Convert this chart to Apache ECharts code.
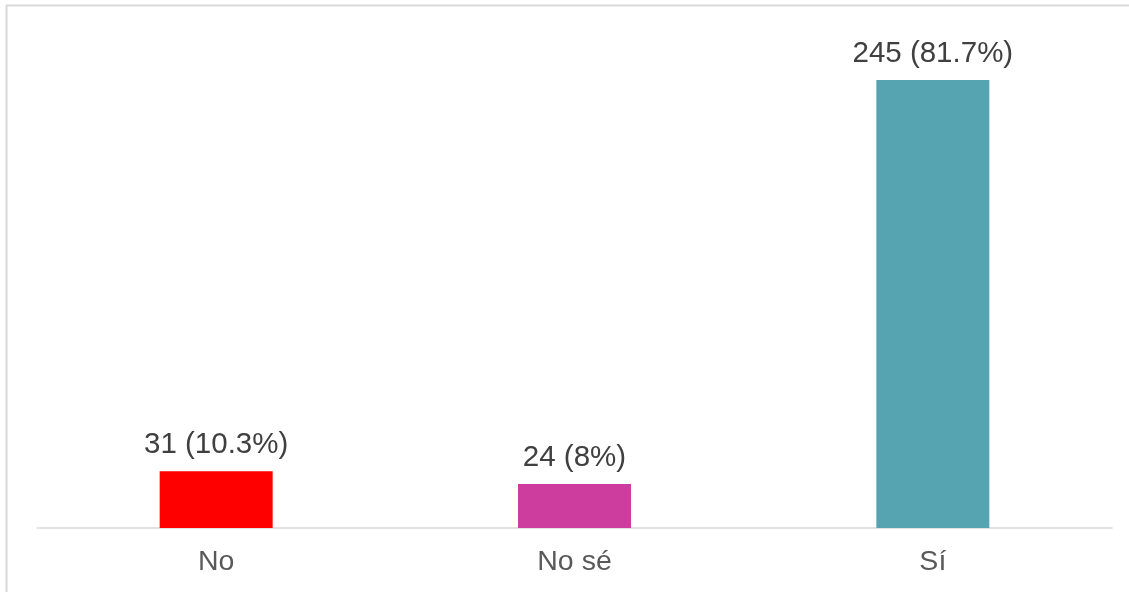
<!DOCTYPE html>
<html>
<head>
<meta charset="utf-8">
<script src="https://cdn.jsdelivr.net/npm/echarts@6/dist/echarts.min.js"></script>
<style>
  html, body { margin: 0; padding: 0; background: #fff; }
  #chart { width: 1129px; height: 592px; }
</style>
</head>
<body>
<div id="chart"></div>
<script>
// Survey answers: count and share per response
const categories = ['No', 'No sé', 'Sí'];
const counts = [31, 24, 245];
const shares = ['10.3%', '8%', '81.7%'];
const barColors = ['#ff0000', '#cc3d9e', '#56a3b1'];

const chart = echarts.init(document.getElementById('chart'));

chart.setOption({
  backgroundColor: '#ffffff',
  animation: false,
  grid: { left: 37, right: 17, top: 80, bottom: 64 },
  xAxis: {
    type: 'category',
    data: categories,
    axisLine: { lineStyle: { color: '#d9d9d9', width: 1.5 } },
    axisTick: { show: false },
    axisLabel: {
      color: '#595959',
      fontFamily: 'Liberation Sans, Arial, sans-serif',
      fontSize: 28.5,
      margin: 20
    }
  },
  yAxis: {
    type: 'value',
    min: 0,
    max: 245,
    show: false,
    splitLine: { show: false }
  },
  series: [{
    type: 'bar',
    barWidth: 113,
    data: counts.map((v, i) => ({ value: v, itemStyle: { color: barColors[i] } })),
    label: {
      show: true,
      position: 'top',
      distance: 11,
      color: '#404040',
      fontFamily: 'Liberation Sans, Arial, sans-serif',
      fontSize: 29.5,
      formatter: p => p.value + ' (' + shares[p.dataIndex] + ')'
    }
  }],
  graphic: [
    { type: 'line', shape: { x1: 6, y1: 5.5, x2: 1129, y2: 5.5 }, style: { stroke: '#d9d9d9', lineWidth: 2 } },
    { type: 'line', shape: { x1: 6.5, y1: 5, x2: 6.5, y2: 592 }, style: { stroke: '#d9d9d9', lineWidth: 2 } }
  ]
});
</script>
</body>
</html>
